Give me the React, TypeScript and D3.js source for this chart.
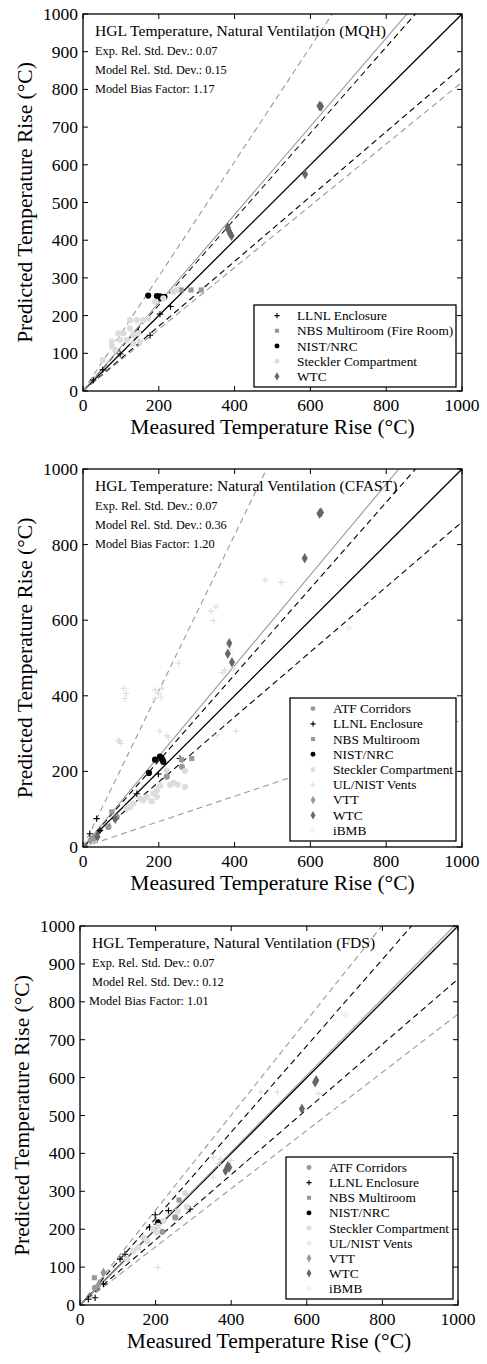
import * as d3 from "d3";

// ---- data: [measured, predicted] pairs ----
const mqhLlnl = [[27, 29], [52, 56], [98, 98], [146, 157], [177, 148], [203, 204], [231, 224]];
const mqhNbs = [[259, 268], [285, 268], [312, 268]];
const mqhNist = [[172, 253], [195, 252], [203, 251], [210, 249], [215, 250], [205, 246]];
const mqhSteckler = [[52, 82], [76, 131], [76, 119], [85, 109], [93, 153], [98, 135], [107, 153], [115, 135], [124, 166], [124, 188], [133, 126], [133, 149], [142, 188], [146, 153], [150, 131], [159, 188], [172, 193], [190, 237], [212, 246], [238, 263], [247, 268]];
const mqhWtc = [[382, 434], [385, 425], [388, 418], [392, 412], [586, 575], [624, 756], [628, 755]];

const cfastAtf = [[36, 27], [67, 53], [89, 80], [221, 186], [261, 212]];
const cfastLlnl = [[18, 35], [36, 75], [45, 44], [85, 75], [142, 141], [199, 193], [256, 234]];
const cfastNbs = [[76, 93], [260, 231], [287, 234]];
const cfastNist = [[174, 196], [190, 231], [203, 239], [208, 234], [212, 225], [210, 230]];
const cfastSteckler = [[115, 102], [124, 106], [133, 115], [150, 128], [159, 124], [168, 133], [181, 121], [186, 141], [195, 150], [195, 133], [203, 163], [221, 203], [230, 165], [239, 170], [250, 165], [269, 159], [269, 201]];
const cfastUl = [[93, 283], [100, 274], [96, 280], [107, 420], [114, 406], [111, 393], [190, 415], [199, 406], [208, 420], [206, 396], [190, 393], [203, 307], [221, 295], [225, 290], [252, 486], [338, 624], [351, 636], [344, 599], [368, 461], [374, 468], [388, 521], [397, 473], [481, 707], [523, 700], [404, 307], [353, 296]];
const cfastVtt = [[20, 18], [30, 24]];
const cfastWtc = [[38, 27], [85, 75], [382, 511], [386, 539], [393, 489], [585, 764], [624, 882], [628, 885]];
const cfastIbmb = [[701, 579]];

const fdsAtf = [[218, 193], [252, 231], [40, 45]];
const fdsLlnl = [[22, 15], [40, 19], [62, 55], [106, 121], [119, 134], [184, 205], [199, 238], [203, 213], [234, 249], [291, 253]];
const fdsNbs = [[38, 72], [262, 277]];
const fdsNist = [[207, 218]];
const fdsSteckler = [[124, 121], [141, 143], [154, 152], [168, 178], [177, 169], [194, 200], [203, 191], [207, 209], [221, 222], [259, 247], [278, 295], [283, 259]];
const fdsUl = [[206, 99], [353, 337], [353, 390], [366, 372], [371, 385], [400, 381], [479, 562], [522, 562], [631, 557]];
const fdsVtt = [[62, 85], [50, 55]];
const fdsWtc = [[385, 354], [391, 366], [395, 363], [587, 518], [622, 588], [625, 593]];
const fdsIbmb = [[702, 765]];

const styles: Record<string, { shape: string; color: string }> = {
  "ATF Corridors": { shape: "circle", color: "#999" },
  "LLNL Enclosure": { shape: "plus", color: "#000" },
  "NBS Multiroom": { shape: "square", color: "#999" },
  "NBS Multiroom (Fire Room)": { shape: "square", color: "#999" },
  "NIST/NRC": { shape: "circle", color: "#000" },
  "Steckler Compartment": { shape: "circle", color: "#ddd" },
  "UL/NIST Vents": { shape: "plus", color: "#ddd" },
  VTT: { shape: "diamond", color: "#999" },
  WTC: { shape: "diamond", color: "#666" },
  iBMB: { shape: "circle", color: "#f2f2f2" },
};

const panels = [
  {
    id: "mqh",
    box: [83, 14, 462, 391],
    yStep: 100,
    title: "HGL Temperature, Natural Ventilation (MQH)",
    stats: ["Exp. Rel. Std. Dev.: 0.07", "Model Rel. Std. Dev.: 0.15", "Model Bias Factor: 1.17"],
    sigmaE: 0.07, sigmaM: 0.15, bias: 1.17,
    legend: [254, 305, 456, 387],
    series: [
      ["LLNL Enclosure", mqhLlnl],
      ["NBS Multiroom (Fire Room)", mqhNbs],
      ["NIST/NRC", mqhNist],
      ["Steckler Compartment", mqhSteckler],
      ["WTC", mqhWtc],
    ],
  },
  {
    id: "cfast",
    box: [83, 469, 462, 847],
    yStep: 200,
    title: "HGL Temperature: Natural Ventilation (CFAST)",
    stats: ["Exp. Rel. Std. Dev.: 0.07", "Model Rel. Std. Dev.: 0.36", "Model Bias Factor: 1.20"],
    sigmaE: 0.07, sigmaM: 0.36, bias: 1.2,
    legend: [290, 698, 456, 841],
    series: [
      ["ATF Corridors", cfastAtf],
      ["LLNL Enclosure", cfastLlnl],
      ["NBS Multiroom", cfastNbs],
      ["NIST/NRC", cfastNist],
      ["Steckler Compartment", cfastSteckler],
      ["UL/NIST Vents", cfastUl],
      ["VTT", cfastVtt],
      ["WTC", cfastWtc],
      ["iBMB", cfastIbmb],
    ],
  },
  {
    id: "fds",
    box: [80, 926, 458, 1305],
    yStep: 100,
    title: "HGL Temperature, Natural Ventilation (FDS)",
    stats: ["Exp. Rel. Std. Dev.: 0.07", "Model Rel. Std. Dev.: 0.12", "Model Bias Factor: 1.01"],
    sigmaE: 0.07, sigmaM: 0.12, bias: 1.01,
    legend: [286, 1157, 453, 1299],
    series: [
      ["ATF Corridors", fdsAtf],
      ["LLNL Enclosure", fdsLlnl],
      ["NBS Multiroom", fdsNbs],
      ["NIST/NRC", fdsNist],
      ["Steckler Compartment", fdsSteckler],
      ["UL/NIST Vents", fdsUl],
      ["VTT", fdsVtt],
      ["WTC", fdsWtc],
      ["iBMB", fdsIbmb],
    ],
  },
];

const font = "'Liberation Serif', 'Times New Roman', serif";

function Marker({ shape, color, x, y, s = 1 }: any) {
  if (shape === "plus") {
    const r = 3.2 * s;
    return (
      <path d={`M${x - r},${y}H${x + r}M${x},${y - r}V${y + r}`} stroke={color} strokeWidth={1.1} />
    );
  }
  const type = shape === "circle" ? d3.symbolCircle : shape === "square" ? d3.symbolSquare : d3.symbolDiamond;
  const size = shape === "circle" ? 30 : shape === "square" ? 26 : 32;
  const p = d3.symbol().type(type).size(size * s * s)();
  return <path d={p || ""} transform={`translate(${x},${y})`} fill={color} />;
}

function Panel({ cfg }: any) {
  const [x0, y0, x1, y1] = cfg.box;
  const x = d3.scaleLinear().domain([0, 1000]).range([x0, x1]);
  const y = d3.scaleLinear().domain([0, 1000]).range([y1, y0]);
  const xTicks = d3.range(0, 1001, 200);
  const yTicks = d3.range(0, 1001, cfg.yStep);
  const line = (slope: number) => d3.line()([[x(0), y(0)], [x(1000), y(1000 * slope)]]) || "";
  const clip = `clip-${cfg.id}`;
  const cx = (x0 + x1) / 2;
  const cy = (y0 + y1) / 2;
  const [lx0, ly0, lx1, ly1] = cfg.legend;
  const n = cfg.series.length;
  const rowH = (ly1 - ly0 - 6) / n;
  const tl = 5;
  return (
    <g>
      <defs>
        <clipPath id={clip}>
          <rect x={x0} y={y0} width={x1 - x0} height={y1 - y0} />
        </clipPath>
      </defs>
      <g clipPath={`url(#${clip})`} fill="none">
        <path d={line(1)} stroke="#000" strokeWidth={1.3} />
        <path d={line(1 + 2 * cfg.sigmaE)} stroke="#000" strokeWidth={1.1} strokeDasharray="6,4" />
        <path d={line(1 - 2 * cfg.sigmaE)} stroke="#000" strokeWidth={1.1} strokeDasharray="6,4" />
        <path d={line(cfg.bias)} stroke="#999" strokeWidth={1.1} />
        <path d={line(cfg.bias * (1 + 2 * cfg.sigmaM))} stroke="#999" strokeWidth={1.1} strokeDasharray="6,4" />
        <path d={line(cfg.bias * (1 - 2 * cfg.sigmaM))} stroke="#999" strokeWidth={1.1} strokeDasharray="6,4" />
        {cfg.series.map(([name, pts]: any) =>
          pts.map((d: number[], i: number) => (
            <Marker key={name + i} shape={styles[name].shape} color={styles[name].color} x={x(d[0])} y={y(d[1])} />
          ))
        )}
      </g>
      {/* ticks */}
      {xTicks.map((t) => (
        <g key={"x" + t}>
          <line x1={x(t)} x2={x(t)} y1={y1} y2={y1 - tl} stroke="#000" />
          <line x1={x(t)} x2={x(t)} y1={y0} y2={y0 + tl} stroke="#000" />
          <text x={x(t)} y={y1 + 20} textAnchor="middle" fontSize={17.5} fontFamily={font}>{t}</text>
        </g>
      ))}
      {yTicks.map((t) => (
        <g key={"y" + t}>
          <line x1={x0} x2={x0 + tl} y1={y(t)} y2={y(t)} stroke="#000" />
          <line x1={x1} x2={x1 - tl} y1={y(t)} y2={y(t)} stroke="#000" />
          <text x={x0 - 5} y={y(t) + 6} textAnchor="end" fontSize={17.5} fontFamily={font}>{t}</text>
        </g>
      ))}
      <rect x={x0} y={y0} width={x1 - x0} height={y1 - y0} fill="none" stroke="#000" strokeWidth={1.3} />
      {/* annotation */}
      <text x={x0 + 12} y={y0 + 22} fontSize={15.6} fontFamily={font}>{cfg.title}</text>
      {cfg.stats.map((s: string, i: number) => (
        <text key={s} x={x0 + 12 - (cfg.id === "fds" && i === 2 ? 3 : 0)} y={y0 + 41 + i * 19} fontSize={12.3} fontFamily={font}>{s}</text>
      ))}
      {/* legend */}
      <rect x={lx0} y={ly0} width={lx1 - lx0} height={ly1 - ly0} fill="#fff" stroke="#000" strokeWidth={1.3} />
      {cfg.series.map(([name]: any, i: number) => {
        const ry = ly0 + 3 + rowH * (i + 0.5);
        return (
          <g key={"l" + name}>
            <Marker shape={styles[name].shape} color={styles[name].color} x={lx0 + 23} y={ry} s={0.8} />
            <text x={lx0 + 43} y={ry + 4.5} fontSize={13.3} fontFamily={font}>{name}</text>
          </g>
        );
      })}
      {/* axis labels */}
      <text x={cx} y={y1 + 43} textAnchor="middle" fontSize={21.5} fontFamily={font}>Measured Temperature Rise (°C)</text>
      <text transform={`translate(${x0 - 51},${cy}) rotate(-90)`} textAnchor="middle" fontSize={21.5} fontFamily={font}>
        Predicted Temperature Rise (°C)
      </text>
    </g>
  );
}

export default function App() {
  return (
    <div style={{ position: "absolute", left: 0, top: 0, background: "#fff" }}>
      <svg width={487} height={1364} style={{ display: "block" }}>
        <rect width={487} height={1364} fill="#fff" />
        {panels.map((p) => (
          <Panel key={p.id} cfg={p} />
        ))}
      </svg>
    </div>
  );
}
